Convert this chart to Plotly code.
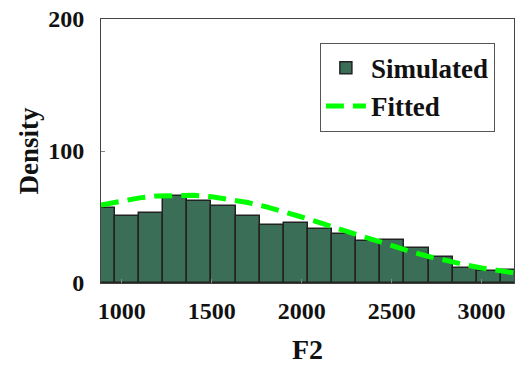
import plotly.graph_objects as go

# Histogram (Simulated) data: bin centers and densities
bin_centers = [896, 1030, 1164, 1298, 1432, 1566, 1700, 1834, 1968, 2102,
               2236, 2370, 2504, 2638, 2772, 2906, 3040, 3174]
bin_width = 134
sim_density = [56.5, 50.6, 53.4, 66.0, 62.3, 58.2, 50.9, 43.8, 45.3, 41.0,
               37.5, 31.7, 32.4, 26.6, 19.7, 11.4, 9.1, 9.5]

# Fitted curve points
fit_x = [885, 1000, 1100, 1200, 1300, 1400, 1500, 1600, 1700, 1800, 1900, 2000,
         2100, 2200, 2300, 2400, 2500, 2600, 2700, 2800, 2900, 3000, 3100, 3180]
fit_y = [59.0, 62.4, 64.5, 66.0, 66.6, 66.4, 65.3, 63.5, 61.0, 57.8, 54.1, 50.0,
         45.7, 41.2, 36.7, 32.2, 28.0, 24.0, 20.3, 17.0, 14.0, 11.4, 9.2, 7.7]

x_ticks = [1000, 1500, 2000, 2500, 3000]
y_ticks = [0, 100, 200]

font_family = "Liberation Serif, Times New Roman, serif"
tick_font = dict(family=font_family, size=24, color="#111111", weight="bold")

fig = go.Figure()
fig.add_trace(go.Bar(
    x=bin_centers, y=sim_density, width=bin_width, name="Simulated",
    marker=dict(color="#3b6e56", line=dict(color="#222222", width=1.5)),
))
fig.add_trace(go.Scatter(
    x=fit_x, y=fit_y, mode="lines", name="Fitted",
    line=dict(color="#00ff00", width=5, dash="18px,9px"),
))

axis_common = dict(
    showline=True, linecolor="#444444", linewidth=1, mirror=True,
    ticks="inside", ticklen=4, tickcolor="#888888", showgrid=False,
    zeroline=False, tickfont=tick_font,
)

fig.update_layout(
    width=521, height=375,
    margin=dict(l=101, r=7, t=19, b=92),
    paper_bgcolor="white", plot_bgcolor="white",
    font=dict(family=font_family, color="#111111"),
    bargap=0,
    xaxis=dict(range=[885, 3180], tickvals=x_ticks, ticklabelstandoff=6,
               title=dict(text="F2", font=dict(family=font_family, size=28, weight="bold"), standoff=16),
               **axis_common),
    yaxis=dict(range=[0, 200], tickvals=y_ticks, ticklabelstandoff=11,
               title=dict(text="Density", font=dict(family=font_family, size=27, weight="bold"), standoff=1),
               **axis_common),
    legend=dict(x=0.53, y=0.91, xanchor="left", yanchor="top",
                bgcolor="white", bordercolor="#555555", borderwidth=1,
                font=dict(family=font_family, size=27, color="#111111", weight="bold"),
                tracegroupgap=0, itemwidth=40),
)

fig.write_html("out.html")
